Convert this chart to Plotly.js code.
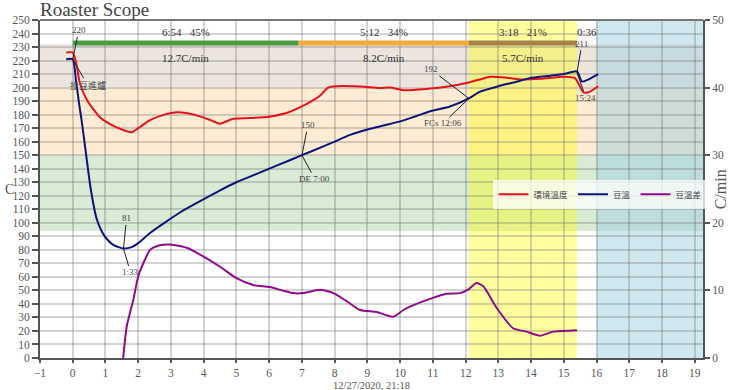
<!DOCTYPE html>
<html><head><meta charset="utf-8">
<script src="https://cdn.plot.ly/plotly-3.0.1.min.js"></script>
<style>html,body{margin:0;padding:0;background:#fff;overflow:hidden}#chart{width:740px;height:390px}</style>
</head><body><div id="chart"></div>
<script>
// Bean temperature (C)
var btTime = [-0.2, 0, 0.1, 0.2, 0.27, 0.4, 0.55, 0.73, 0.9, 1.04, 1.25, 1.55, 1.8, 2.0, 2.36, 2.8, 3.3, 3.89, 4.5, 5.0, 5.6, 6.3, 7.0, 7.6, 8.0, 8.47, 9.0, 9.5, 10.0, 10.5, 11.0, 11.52, 12.1, 12.44, 13.0, 13.5, 13.96, 14.5, 15.0, 15.4, 15.55, 15.7, 16.05];
var btTemp = [221, 221, 205, 187, 176, 152, 125, 103, 93, 88, 83.5, 81, 82, 85, 92.5, 100, 108, 116, 124, 130, 136, 143, 150, 156, 160, 165, 169, 172, 175, 179, 183, 186, 192, 197, 201, 204, 207, 208.5, 210, 212, 204.5, 205.5, 210];
// Environment temperature (C)
var etTime = [-0.2, 0, 0.1, 0.22, 0.43, 0.83, 1.14, 1.5, 1.8, 2.0, 2.36, 2.8, 3.17, 3.5, 3.89, 4.2, 4.5, 4.9, 5.41, 6.0, 6.5, 6.9, 7.3, 7.55, 7.8, 8.06, 9.0, 9.38, 9.7, 10.1, 10.8, 11.5, 12.13, 12.44, 12.74, 13.2, 13.66, 14.3, 14.98, 15.34, 15.6, 15.75, 16.05];
var etTemp = [226, 226, 219, 203, 191, 178, 173, 169, 167, 170, 176, 180, 181.7, 181, 178.7, 176, 173.3, 177, 177.5, 178.5, 181, 185, 190, 194, 200, 201, 200.5, 199.7, 200, 198, 199, 201, 204, 206, 208, 207.5, 206, 206.5, 208, 207, 196.5, 196.5, 201];
// Rate of rise (C/min)
var rorTime = [1.54, 1.65, 1.85, 2.0, 2.2, 2.36, 2.6, 2.97, 3.48, 3.89, 4.5, 5.0, 5.51, 6.02, 6.4, 6.73, 7.04, 7.55, 7.96, 8.37, 8.77, 9.28, 9.79, 10.1, 10.5, 11.0, 11.42, 11.82, 12.1, 12.33, 12.54, 12.95, 13.45, 13.86, 14.27, 14.67, 15.0, 15.4];
var rorVal = [0, 4.7, 8.6, 12.1, 14.5, 16, 16.6, 16.8, 16.3, 15.3, 13.5, 11.8, 10.8, 10.5, 10.0, 9.6, 9.6, 10.1, 9.6, 8.4, 7.1, 6.8, 6.1, 7.1, 8.0, 8.9, 9.5, 9.6, 10.2, 11.1, 10.6, 7.4, 4.4, 3.9, 3.3, 3.9, 4.0, 4.1];

var seriesNames = ['環境溫度', '豆溫', '豆溫差'];

// Roast phases
var phaseStart = [0, 6.9, 12.1];
var phaseEnd = [6.9, 12.1, 15.4];
var phaseTime = ['6:54', '5:12', '3:18'];
var phasePct = ['45%', '34%', '21%'];
var phaseRate = ['12.7C/min', '8.2C/min', '5.7C/min'];
var phaseColor = ['#4a9c3e', '#f2aa3c', '#a8804a'];
var phaseLevel = 233;
var coolLabel = '0:36';
var coolLabelX = 15.7;

// Events
var evTime = [0, 1.55, 7.0, 12.1, 15.4];
var evTemp = [221, 81, 150, 192, 211];
var evTop = ['220', '81', '150', '192', '211'];
var evBottom = ['投豆進爐', '1:33', 'DE 7:00', 'FCs 12:06', '15:24'];
var evTopOff = [[6, -29], [3, -30], [6, -30], [-38, -29], [5, -29]];
var evBotOff = [[15, 26], [7, 24], [13, 24], [-26, 25], [9, 25]];

var xTicks = [];
for (var i = -1; i <= 19; i++) xTicks.push(i);

var FONT = 'Liberation Serif, "Noto Sans CJK TC", serif';

var traces = [];
for (var p = 0; p < phaseStart.length; p++) {
  traces.push({x: [phaseStart[p], phaseEnd[p]], y: [phaseLevel, phaseLevel], mode: 'lines',
    line: {color: phaseColor[p], width: 5}, showlegend: false, hoverinfo: 'skip'});
}
traces.push({x: etTime, y: etTemp, name: seriesNames[0], mode: 'lines',
  line: {color: '#e3141c', width: 2, shape: 'spline', smoothing: 0.6}});
traces.push({x: btTime, y: btTemp, name: seriesNames[1], mode: 'lines',
  line: {color: '#0b1577', width: 2, shape: 'spline', smoothing: 0.6}});
traces.push({x: rorTime, y: rorVal, name: seriesNames[2], mode: 'lines', yaxis: 'y2',
  line: {color: '#8e0b8a', width: 2, shape: 'spline', smoothing: 0.6}});

var shapes = [
  {type: 'rect', xref: 'paper', yref: 'y', x0: 0, x1: 1, y0: 200, y1: 232, fillcolor: '#ece5de', line: {width: 0}, layer: 'below'},
  {type: 'rect', xref: 'paper', yref: 'y', x0: 0, x1: 1, y0: 150, y1: 200, fillcolor: '#fdebd3', line: {width: 0}, layer: 'below'},
  {type: 'rect', xref: 'paper', yref: 'y', x0: 0, x1: 1, y0: 94, y1: 150, fillcolor: '#d9ead5', line: {width: 0}, layer: 'below'},
  {type: 'rect', xref: 'x', yref: 'paper', x0: phaseEnd[1], x1: phaseEnd[2], y0: 0, y1: 1, fillcolor: 'rgba(255,255,0,0.38)', line: {width: 0}, layer: 'below'},
  {type: 'rect', xref: 'x', yref: 'paper', x0: 16, x1: 19.25, y0: 0, y1: 1, fillcolor: 'rgba(160,208,224,0.5)', line: {width: 0}, layer: 'below'},
  {type: 'line', xref: 'paper', yref: 'paper', x0: 0, x1: 1, y0: 1, y1: 1, line: {color: '#777', width: 2}}
];

var annotations = [];
var afont = {family: FONT, size: 11, color: '#333'};
for (var p = 0; p < phaseStart.length; p++) {
  var cx = (phaseStart[p] + phaseEnd[p]) / 2;
  annotations.push({x: cx, y: 241, xref: 'x', yref: 'y', text: phaseTime[p] + '&nbsp;&nbsp;&nbsp;' + phasePct[p], showarrow: false, font: afont});
  annotations.push({x: cx, y: 222, xref: 'x', yref: 'y', text: phaseRate[p], showarrow: false, font: afont});
}
annotations.push({x: coolLabelX, y: 241, xref: 'x', yref: 'y', text: coolLabel, showarrow: false, font: afont});
var efont = {family: FONT, size: 9, color: '#444'};
for (var e = 0; e < evTime.length; e++) {
  annotations.push({x: evTime[e], y: evTemp[e], xref: 'x', yref: 'y', text: evTop[e], showarrow: true, arrowhead: 0, arrowwidth: 1, arrowcolor: '#222', ax: evTopOff[e][0], ay: evTopOff[e][1], font: efont, standoff: 0});
  annotations.push({x: evTime[e], y: evTemp[e], xref: 'x', yref: 'y', text: evBottom[e], showarrow: true, arrowhead: 0, arrowwidth: 1, arrowcolor: '#222', ax: evBotOff[e][0], ay: evBotOff[e][1], font: efont, standoff: 0});
}
annotations.push({x: 0, y: 0.5, xref: 'paper', yref: 'paper', xshift: -36, text: 'C', showarrow: false, borderpad: 0, font: {family: FONT, size: 14, color: '#555'}});
annotations.push({x: 0.5, y: -0.081, xref: 'paper', yref: 'paper', yanchor: 'middle', text: '12/27/2020, 21:18', showarrow: false, borderpad: 0, font: {family: FONT, size: 10.5, color: '#555'}});
annotations.push({x: 1.042, y: 0.5, xref: 'paper', yref: 'paper', text: 'C/min', textangle: -90, showarrow: false, font: {family: FONT, size: 16, color: '#555'}});

var tickfont = {family: FONT, size: 11.5, color: '#555'};
var layout = {
  width: 740, height: 390,
  margin: {l: 40, r: 37, t: 20, b: 32, autoexpand: false},
  paper_bgcolor: '#fff', plot_bgcolor: '#fff',
  title: {text: 'Roaster Scope', x: 0.054, xanchor: 'left', y: 0.975, yanchor: 'middle', font: {family: FONT, size: 19, color: '#444'}},
  showlegend: true,
  legend: {orientation: 'h', x: 0.684, y: 0.527, xanchor: 'left', yanchor: 'top', bgcolor: 'rgba(255,255,255,0.75)', font: {family: FONT, size: 8.5, color: '#444'}, itemwidth: 30, tracegroupgap: 0},
  xaxis: {range: [-1, 19.25], tickvals: xTicks, ticks: 'outside', ticklen: 3, tickwidth: 2, tickcolor: '#555', automargin: false,
    showline: true, linecolor: '#555', linewidth: 2, showgrid: true, gridcolor: 'rgba(110,110,110,0.3)', gridwidth: 2, zeroline: false,
    tickfont: tickfont},
  yaxis: {range: [0, 250], dtick: 10, ticks: 'outside', ticklen: 6, tickwidth: 2, tickcolor: '#555', automargin: false,
    showline: true, linecolor: '#555', linewidth: 2, showgrid: true, gridcolor: 'rgba(110,110,110,0.3)', gridwidth: 2, zeroline: false,
    tickfont: tickfont},
  yaxis2: {range: [0, 50], dtick: 10, overlaying: 'y', side: 'right', ticks: 'outside', ticklen: 5, tickwidth: 2, tickcolor: '#555', automargin: false,
    showline: true, linecolor: '#555', linewidth: 2, showgrid: false, zeroline: false, tickfont: tickfont},
  shapes: shapes,
  annotations: annotations
};

Plotly.newPlot('chart', traces, layout, {displayModeBar: false, staticPlot: true});
</script></body></html>
